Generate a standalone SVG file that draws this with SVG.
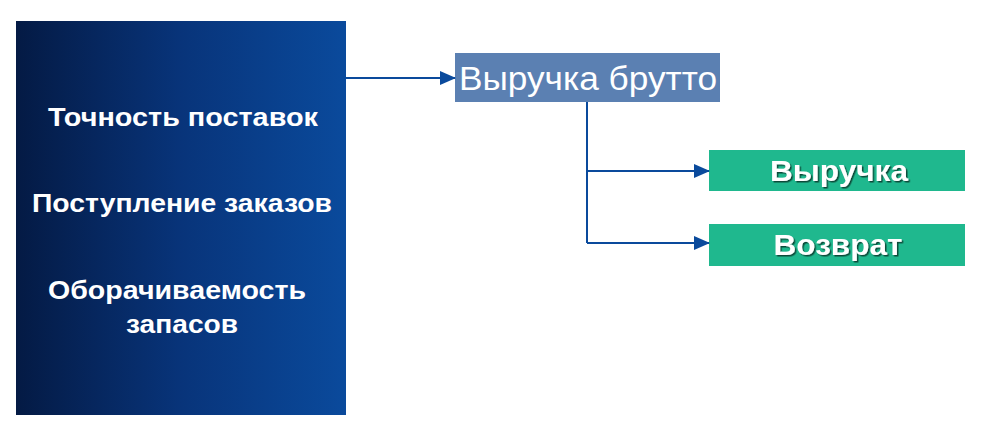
<svg xmlns="http://www.w3.org/2000/svg" width="987" height="439" viewBox="0 0 987 439">
<defs>
<linearGradient id="lg" x1="0" y1="0" x2="1" y2="0">
<stop offset="0" stop-color="#041a44"/>
<stop offset="0.5" stop-color="#08347a"/>
<stop offset="1" stop-color="#0a4a9c"/>
</linearGradient>
<marker id="ah" markerWidth="16" markerHeight="14" refX="15" refY="7" orient="auto" markerUnits="userSpaceOnUse" viewBox="0 0 16 14">
<path d="M0,0 L16,7 L0,14 z" fill="#0a4a9c"/>
</marker>
<filter id="sh" x="-10%" y="-10%" width="120%" height="130%">
<feDropShadow dx="1.5" dy="1.5" stdDeviation="0.5" flood-color="#000" flood-opacity="0.6"/>
</filter>
</defs>
<style>
.lt{font-family:"Liberation Sans",Arial,sans-serif;font-weight:bold;font-size:25px;fill:#fff;text-anchor:middle}
.gt{font-family:"Liberation Sans",Arial,sans-serif;font-weight:bold;font-size:30px;fill:#fff;text-anchor:middle}
.conn{stroke:#0a4a9c;stroke-width:2;fill:none}
</style>
<rect width="987" height="439" fill="#fff"/>
<g id="left">
<rect x="16" y="21" width="330" height="394" fill="url(#lg)"/>
<text class="lt" x="183" y="126" textLength="270" lengthAdjust="spacingAndGlyphs">Точность поставок</text>
<text class="lt" x="182" y="212" textLength="300" lengthAdjust="spacingAndGlyphs">Поступление заказов</text>
<text class="lt" x="177" y="299" textLength="258" lengthAdjust="spacingAndGlyphs">Оборачиваемость</text>
<text class="lt" x="182" y="333" textLength="112" lengthAdjust="spacingAndGlyphs">запасов</text>
</g>
<g id="brutto">
<rect x="455" y="53" width="265" height="49" fill="#5b80b2"/>
<text x="588" y="90" font-family="Liberation Sans,Arial,sans-serif" font-size="34" fill="#fff" text-anchor="middle" textLength="258" lengthAdjust="spacingAndGlyphs">Выручка брутто</text>
</g>
<g id="revenue">
<rect x="709" y="150" width="256" height="41" fill="#1fb88e"/>
<text class="gt" x="839" y="181" filter="url(#sh)" textLength="138" lengthAdjust="spacingAndGlyphs">Выручка</text>
</g>
<g id="return">
<rect x="709" y="224" width="256" height="42" fill="#1fb88e"/>
<text class="gt" x="838" y="255" filter="url(#sh)" textLength="129" lengthAdjust="spacingAndGlyphs">Возврат</text>
</g>
<g id="connectors">
<path class="conn" d="M346,78 H455" marker-end="url(#ah)"/>
<path class="conn" d="M587,102 V243"/>
<path class="conn" d="M587,171 H709" marker-end="url(#ah)"/>
<path class="conn" d="M587,243 H709" marker-end="url(#ah)"/>
</g>
</svg>
